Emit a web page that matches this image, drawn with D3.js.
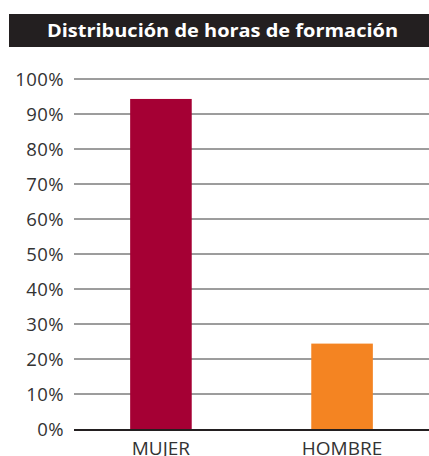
<!DOCTYPE html>
<html>
<head>
<meta charset="utf-8">
<script src="https://cdn.jsdelivr.net/npm/d3@7"></script>
<style>
  html, body { margin: 0; padding: 0; background: #fff; }
  svg { display: block; }
</style>
</head>
<body>
<svg id="chart" width="429" height="456"></svg>
<script>
// Distribución de horas de formación — bar chart

const TITLE = 'Distribución de horas de formación';
const categories = ['MUJER', 'HOMBRE'];
const values = [94.3, 24.4];
const colors = ['#a50034', '#f48422'];
const ticks = [0, 10, 20, 30, 40, 50, 60, 70, 80, 90, 100];

const W = 429, H = 456;
const PLOT = { left: 74, right: 429, top: 79, bottom: 429 };

const svg = d3.select('#chart');

// Title bar
svg.append('rect')
    .attr('x', 9)
    .attr('y', 14)
    .attr('width', W - 9)
    .attr('height', 33)
    .attr('fill', '#231f20');

svg.append('text')
    .attr('x', 222.5)
    .attr('y', 37)
    .attr('text-anchor', 'middle')
    .attr('font-family', 'Open Sans, sans-serif')
    .attr('font-weight', 700)
    .attr('font-size', '18px')
    .attr('textLength', 351)
    .attr('lengthAdjust', 'spacingAndGlyphs')
    .attr('fill', '#fff')
    .text(TITLE);

const y = d3.scaleLinear()
    .domain([0, 100])
    .range([PLOT.bottom, PLOT.top]);

const x = d3.scaleBand()
    .domain(categories)
    .range([PLOT.left, PLOT.right])
    .paddingInner(0.66)
    .paddingOuter(0.31);

// Gridlines
svg.append('g')
    .selectAll('line')
    .data(ticks.filter(t => t > 0))
    .join('line')
    .attr('x1', PLOT.left)
    .attr('x2', PLOT.right)
    .attr('y1', d => y(d))
    .attr('y2', d => y(d))
    .attr('stroke', '#3a3a3a')
    .attr('stroke-width', 1);

// Tick labels
svg.append('g')
    .selectAll('text')
    .data(ticks)
    .join('text')
    .attr('x', 64)
    .attr('y', d => y(d) + 7)
    .attr('text-anchor', 'end')
    .attr('font-family', 'Open Sans, sans-serif')
    .attr('font-size', '18.5px')
    .attr('letter-spacing', '0.4px')
    .attr('fill', '#333')
    .text(d => d + '%');

// Bars
svg.append('g')
    .selectAll('rect')
    .data(categories)
    .join('rect')
    .attr('x', d => x(d))
    .attr('width', x.bandwidth())
    .attr('y', (d, i) => y(values[i]))
    .attr('height', (d, i) => y(0) - y(values[i]))
    .attr('fill', (d, i) => colors[i]);

// Baseline
svg.append('line')
    .attr('x1', PLOT.left)
    .attr('x2', PLOT.right)
    .attr('y1', y(0) + 1)
    .attr('y2', y(0) + 1)
    .attr('stroke', '#231f20')
    .attr('stroke-width', 2);

// Category labels
svg.append('g')
    .selectAll('text')
    .data(categories)
    .join('text')
    .attr('x', d => x(d) + x.bandwidth() / 2)
    .attr('y', 455)
    .attr('text-anchor', 'middle')
    .attr('font-family', 'Open Sans, sans-serif')
    .attr('font-size', '19px')
    .attr('fill', '#333')
    .text(d => d);
</script>
</body>
</html>
